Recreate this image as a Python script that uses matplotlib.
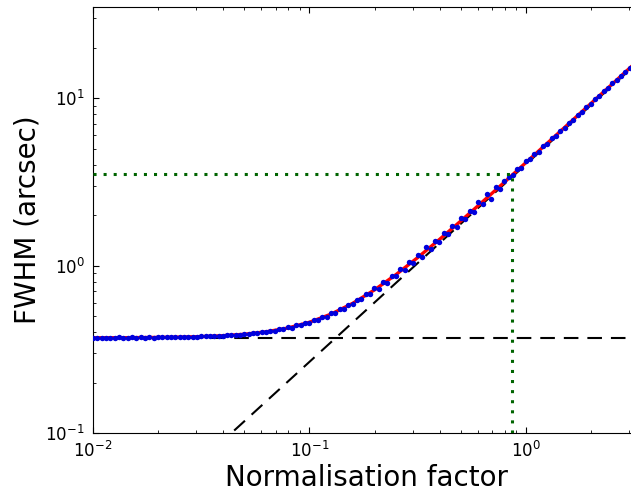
"""
plot.py
FWHM against normalisation factor on log-log axes, with fit and asymptotes.
"""

import matplotlib
matplotlib.use("Agg")
import matplotlib.pyplot as plt

# ------------------------------------------------------------------------
# Data
# ------------------------------------------------------------------------
norm_obs = [
    0.01000, 0.01047, 0.01096, 0.01148, 0.01202, 0.01259, 0.01318, 0.01380, 0.01445, 0.01514,
    0.01585, 0.01660, 0.01738, 0.01820, 0.01905, 0.01995, 0.02089, 0.02188, 0.02291, 0.02399,
    0.02512, 0.02630, 0.02754, 0.02884, 0.03020, 0.03162, 0.03311, 0.03467, 0.03631, 0.03802,
    0.03981, 0.04169, 0.04365, 0.04571, 0.04786, 0.05012, 0.05248, 0.05495, 0.05754, 0.06026,
    0.06310, 0.06607, 0.06918, 0.07244, 0.07586, 0.07943, 0.08318, 0.08710, 0.09120, 0.09550,
    0.1000, 0.1047, 0.1096, 0.1148, 0.1202, 0.1259, 0.1318, 0.1380, 0.1445, 0.1514,
    0.1585, 0.1660, 0.1738, 0.1820, 0.1905, 0.1995, 0.2089, 0.2188, 0.2291, 0.2399,
    0.2512, 0.2630, 0.2754, 0.2884, 0.3020, 0.3162, 0.3311, 0.3467, 0.3631, 0.3802,
    0.3981, 0.4169, 0.4365, 0.4571, 0.4786, 0.5012, 0.5248, 0.5495, 0.5754, 0.6026,
    0.6310, 0.6607, 0.6918, 0.7244, 0.7586, 0.7943, 0.8318, 0.8710, 0.9120, 0.9550,
    1.000, 1.047, 1.096, 1.148, 1.202, 1.259, 1.318, 1.380, 1.445, 1.514,
    1.585, 1.660, 1.738, 1.820, 1.905, 1.995, 2.089, 2.188, 2.291, 2.399,
    2.512, 2.630, 2.754, 2.884, 3.020,
]
fwhm_obs = [
    0.3712, 0.3708, 0.3716, 0.3702, 0.3714, 0.3711, 0.3719, 0.3706, 0.3715, 0.3721,
    0.3710, 0.3722, 0.3718, 0.3727, 0.3716, 0.3731, 0.3729, 0.3738, 0.3733, 0.3745,
    0.3741, 0.3754, 0.3750, 0.3766, 0.3758, 0.3779, 0.3770, 0.3795, 0.3786, 0.3816,
    0.3808, 0.3841, 0.3830, 0.3872, 0.3861, 0.3905, 0.3898, 0.3958, 0.3945, 0.4012,
    0.4003, 0.4081, 0.4075, 0.4163, 0.4160, 0.4270, 0.4265, 0.4394, 0.4392, 0.4538,
    0.4547, 0.4729, 0.4731, 0.4930, 0.4962, 0.5190, 0.5214, 0.5489, 0.5526, 0.5841,
    0.5870, 0.6248, 0.6290, 0.6736, 0.6785, 0.7312, 0.7290, 0.7941, 0.7896, 0.8705,
    0.8612, 0.9540, 0.9408, 1.0560, 1.0412, 1.1580, 1.1322, 1.2870, 1.2548, 1.4010,
    1.3812, 1.5620, 1.5368, 1.7150, 1.6910, 1.9320, 1.8950, 2.1240, 2.0810, 2.4080,
    2.3210, 2.6800, 2.5120, 2.9350, 2.8620, 3.2110, 3.3680, 3.4520, 3.7540, 3.8320,
    4.2010, 4.3010, 4.6620, 4.7980, 5.1620, 5.3310, 5.7620, 5.9510, 6.3920, 6.6410,
    7.1420, 7.4010, 7.9350, 8.2480, 8.8610, 9.2050, 9.8520, 10.262, 10.985, 11.421,
    12.240, 12.760, 13.612, 14.221, 15.160,
]

# fitted curve
norm_fit = [0.01, 0.01259, 0.01585, 0.01995, 0.02512, 0.03162, 0.03981, 0.05012, 0.0631,
            0.07943, 0.1, 0.1259, 0.1585, 0.1995, 0.2512, 0.3162, 0.3981, 0.5012, 0.631,
            0.7943, 1.0, 1.259, 1.585, 1.995, 2.512, 3.162]
fwhm_fit = [0.3704, 0.3707, 0.3713, 0.3722, 0.3738, 0.3765, 0.3811, 0.3889, 0.4020,
            0.4236, 0.4584, 0.5128, 0.5949, 0.7144, 0.8830, 1.1149, 1.4286, 1.8476, 2.4035,
            3.1374, 4.1167, 5.3914, 7.0659, 9.2648, 12.151, 15.95]

# asymptotes
floor_x = [0.01, 3.4]
floor_y = [0.37, 0.37]
slope_x = [0.01, 3.4]
slope_y = [0.0176, 17.0]

# chosen working point
work_x = 0.86
work_y = 3.5

# ------------------------------------------------------------------------
# Plot
# ------------------------------------------------------------------------
fig = plt.figure(figsize=(6.31, 4.93), dpi=100)
ax = fig.add_axes([93 / 631, 60 / 493, 547 / 631, 426 / 493])

ax.plot(floor_x, floor_y, color="black", lw=1.5, dashes=(7, 4.3), zorder=1)
ax.plot(slope_x, slope_y, color="black", lw=1.5, dashes=(7, 4.3), zorder=1)
ax.plot(norm_fit, fwhm_fit, color="red", lw=2.4, zorder=2)
ax.plot(norm_obs, fwhm_obs, "o", color="#0000dd", ms=3.9, mew=0, zorder=3)
ax.plot([0.01, work_x], [work_y, work_y], color="darkgreen", lw=2.2, dashes=(1, 2.3), zorder=5)
ax.plot([work_x, work_x], [0.1, work_y], color="darkgreen", lw=2.2, dashes=(1, 2.3), zorder=5)

ax.set_xscale("log")
ax.set_yscale("log")
ax.set_xlim(0.01, 3.37)
ax.set_ylim(0.1, 35)

ax.tick_params(which="both", direction="in", top=True, right=True, labelsize=12, pad=6)
ax.tick_params(which="major", length=4.3, width=0.8)
ax.tick_params(which="minor", length=2, width=0.6)

ax.set_xlabel("Normalisation factor", fontsize=20, labelpad=2)
ax.set_ylabel("FWHM (arcsec)", fontsize=20, labelpad=3)

fig.savefig("out.png", dpi=100)
